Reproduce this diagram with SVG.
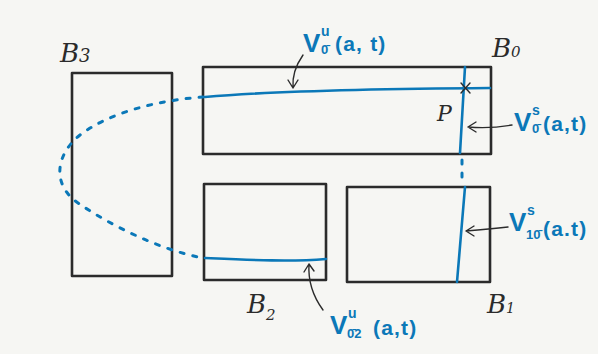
<svg xmlns="http://www.w3.org/2000/svg" width="598" height="354" viewBox="0 0 598 354">
<style>
.box{fill:none;stroke:#2b2b2b;stroke-width:2.6;stroke-linejoin:round}
.blue{fill:none;stroke:#0b78b8;stroke-width:2.6;stroke-linecap:round}
.dash{fill:none;stroke:#0b78b8;stroke-width:3;stroke-linecap:round;stroke-dasharray:4 9}
.arr{fill:none;stroke:#2b2b2b;stroke-width:1.4;stroke-linecap:round;stroke-linejoin:round}
.lb{font-family:"Liberation Sans","DejaVu Sans",sans-serif;fill:#0b78b8;font-weight:bold}
.pa{font-size:21px;letter-spacing:1.2px}
.bl{font-family:"DejaVu Serif","Liberation Serif",serif;fill:#2b2b2b;font-style:italic}
</style>
<rect x="0" y="0" width="598" height="354" fill="#f6f6f3"/>
<g id="B3">
<rect class="box" x="72" y="73" width="100" height="203"/>
<text class="bl" x="60" y="62" font-size="26">B</text>
<text class="bl" x="79" y="62" font-size="18">3</text>
</g>
<g id="B0">
<rect class="box" x="203" y="67" width="288" height="87"/>
<text class="bl" x="492" y="57" font-size="26">B</text>
<text class="bl" x="511" y="57" font-size="15">0</text>
<text class="bl" x="437" y="121" font-size="22">P</text>
</g>
<g id="B2">
<rect class="box" x="204" y="184" width="122" height="96"/>
<text class="bl" x="247" y="313" font-size="26">B</text>
<text class="bl" x="266" y="320" font-size="15">2</text>
</g>
<g id="B1">
<rect class="box" x="347" y="187" width="143" height="95"/>
<text class="bl" x="487" y="313" font-size="26">B</text>
<text class="bl" x="506" y="313" font-size="14">1</text>
</g>
<g id="connectors">
<path class="blue" d="M205,97 C250,93 350,89 490,88"/>
<path class="blue" d="M465,67 L460,153"/>
<path class="blue" d="M465,187 L457,282"/>
<path class="blue" d="M205,258 C250,260 290,262 326,259"/>
<path class="dash" d="M203,97 C160,100 110,112 80,135 C55,155 52,185 78,203 C110,225 160,250 203,258"/>
<path class="dash" d="M462,160 L462,181" stroke-dasharray="0.1 6.5" stroke-width="3.5"/>
<path class="arr" d="M461,83 L470,93 M470,83 L461,93" stroke-width="2"/>
<path class="arr" d="M303,55 C296,65 292,75 293,88 M288,80 L293,88 L298,80"/>
<path class="arr" d="M512,125 C495,128 480,128 468,127 M476,122 L468,127 L476,132"/>
<path class="arr" d="M508,227 C490,229 478,230 466,231 M474,226 L466,231 L474,236"/>
<path class="arr" d="M323,310 C312,295 308,280 309,264 M304,272 L309,264 L314,271"/>
</g>
<g id="labels">
<text class="lb" x="303" y="52" font-size="26">V</text>
<text class="lb" x="321" y="36" font-size="14">u</text>
<text class="lb" x="321" y="54" font-size="13">0̄</text>
<text class="lb pa" x="335" y="51">(a, t)</text>

<text class="lb" x="514" y="131" font-size="26">V</text>
<text class="lb" x="532" y="115" font-size="14">s</text>
<text class="lb" x="532" y="133" font-size="13">0̄</text>
<text class="lb pa" x="543" y="131">(a,t)</text>

<text class="lb" x="509" y="231" font-size="26">V</text>
<text class="lb" x="527" y="215" font-size="14">s</text>
<text class="lb" x="526" y="239" font-size="13">10̄</text>
<text class="lb pa" x="543" y="236">(a.t)</text>

<text class="lb" x="330" y="334" font-size="26">V</text>
<text class="lb" x="348" y="318" font-size="14">u</text>
<text class="lb" x="347" y="338" font-size="13">0̄2</text>
<text class="lb pa" x="373" y="335">(a,t)</text>
</g>
</svg>
